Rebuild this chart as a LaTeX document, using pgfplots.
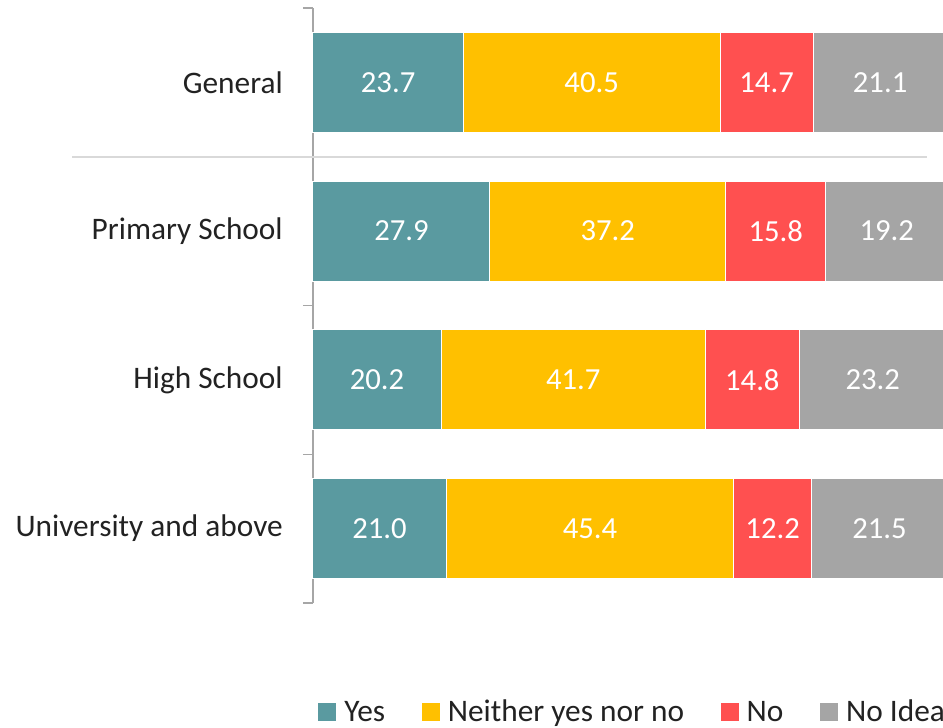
\documentclass[border=0pt]{standalone}
\usepackage{pgfplots}
\pgfplotsset{compat=1.18}
\usepackage{pgfplotstable}
\usepackage{fontspec}
\setmainfont{Carlito}
\definecolor{cyes}{HTML}{5A9AA0}
\definecolor{cnei}{HTML}{FFC000}
\definecolor{cno}{HTML}{FF5050}
\definecolor{cnid}{HTML}{A5A5A5}
\definecolor{caxis}{HTML}{A6A6A6}
\definecolor{csep}{HTML}{D9D9D9}
\definecolor{ctext}{HTML}{222222}
\pgfplotstableread{
y yes neither no noidea
0 23.7 40.5 14.7 21.1
1 27.9 37.2 15.8 19.2
2 20.2 41.7 14.8 23.2
3 21.0 45.4 12.2 21.5
}\datatable
\pgfplotsset{
  mybar/.style={
    fill=#1, draw=white, line width=0.75pt,
    nodes near coords={\pgfmathprintnumber[fixed,fixed zerofill,precision=1,assume math mode=true]{\pgfplotspointmeta}},
    every node near coord/.append style={text=white, anchor=center, font=\fontsize{23}{27}\selectfont},
  }
}
\begin{document}
\begin{tikzpicture}
\begin{axis}[
  scale only axis,
  width=475.5pt, height=446.25pt,
  xmin=0, xmax=100, ymin=-0.5, ymax=3.5,
  y dir=reverse,
  xbar stacked, bar width=75pt,
  axis x line=none,
  axis y line*=left,
  y axis line style={draw=caxis, line width=1pt},
  ytick={0,1,2,3},
  yticklabels={General,Primary School,High School,University and above},
  major tick length=0pt,
  minor ytick={-0.5,0.5,1.5,2.5,3.5},
  minor tick length=7.5pt,
  tick align=outside,
  minor tick style={draw=caxis, line width=1pt},
  yticklabel style={anchor=east, inner sep=0pt, xshift=-22.5pt, font=\fontsize{23.5}{28}\selectfont, text=ctext},
  clip=false,
  legend columns=4,
  legend style={at={(axis description cs:0.0079,-0.1832)}, anchor=west, draw=none, inner sep=0pt,
    font=\fontsize{23.5}{28}\selectfont, text=ctext,
    nodes={inner xsep=0pt, inner ysep=0pt},
    /tikz/every odd column/.append style={column sep=6pt},
    /tikz/every even column/.append style={column sep=27.5pt}},
  legend image code/.code={\fill[#1, draw=none] (0pt,-7pt) rectangle (13.5pt,6.5pt);},
]
\draw[csep, line width=1.2pt] (axis cs:-38.0,0.5) -- (axis cs:96.85,0.5);
\addplot+[mybar=cyes, point meta=\thisrow{yes}] table[x=yes,y=y]{\datatable};
\addplot+[mybar=cnei, point meta=\thisrow{neither}] table[x=neither,y=y]{\datatable};
\addplot+[mybar=cno, point meta=\thisrow{no}] table[x=no,y=y]{\datatable};
\addplot+[mybar=cnid, point meta=\thisrow{noidea}] table[x=noidea,y=y]{\datatable};
\legend{Yes,Neither yes nor no,No,No Idea}
\end{axis}
\pgfresetboundingbox
\path ([shift={(-234.75pt,-93.75pt)}]current axis.south west) rectangle ([shift={(-3pt,6pt)}]current axis.north east);
\end{tikzpicture}
\end{document}
